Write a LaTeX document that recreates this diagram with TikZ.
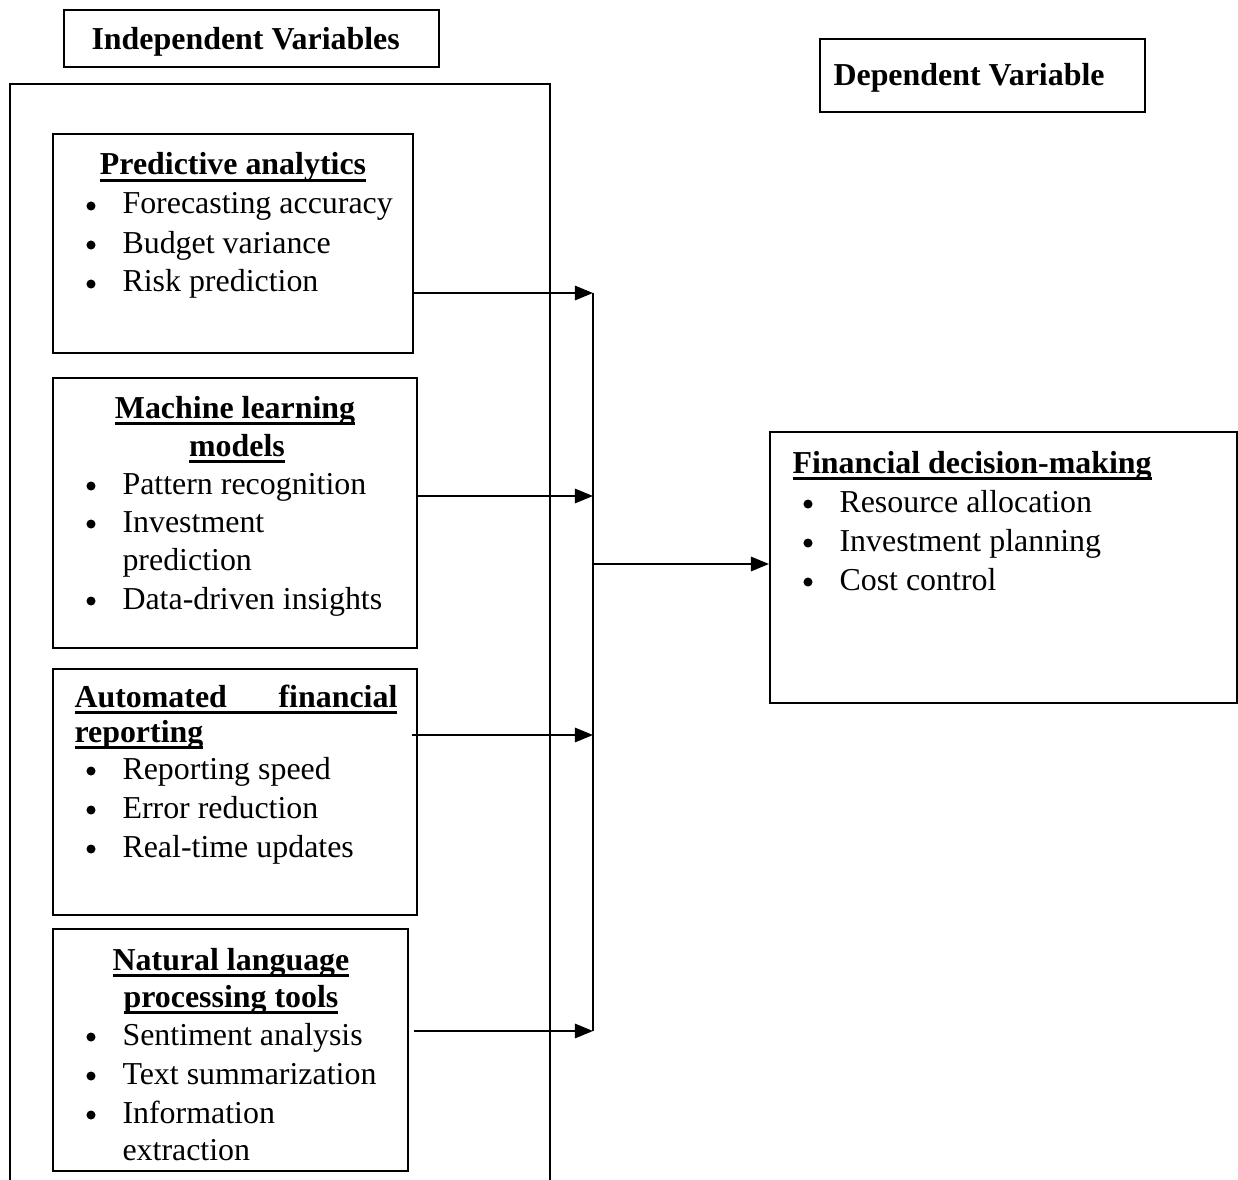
\documentclass[tikz,border=0pt]{standalone}
\usepackage{fontspec}
\setmainfont{Liberation Serif}
\usetikzlibrary{fit,arrows.meta}
\newcommand\myul[1]{\sbox0{#1}\rlap{\rule[-2.5pt]{\wd0}{1.1pt}}\usebox0}
\begin{document}
\begin{tikzpicture}[x=0.376pt,y=-0.376pt,
  every node/.style={font=\fontsize{12}{14}\selectfont},
  box/.style={draw, line width=0.75pt, inner sep=0pt},
  txt/.style={anchor=base west, inner sep=0pt},
  hd/.style={anchor=base west, inner sep=0pt, font=\fontsize{12}{14}\selectfont\bfseries},
  ttl/.style={anchor=base, inner sep=0pt, font=\fontsize{12}{14}\selectfont\bfseries},
  ttll/.style={anchor=base west, inner sep=0pt, font=\fontsize{12}{14}\selectfont\bfseries},
  bul/.style={circle, fill, inner sep=0pt, minimum size=3.4pt, yshift=3pt},
  conn/.style={line width=0.75pt},
  arr/.style={line width=0.75pt, -{Triangle[length=6.8pt,width=5.4pt]}}]
\useasboundingbox (0,0) rectangle (1238,1180);
\fill[white] (0,0) rectangle (1238,1180);

% headers
\node (ivbox) [box, fit={(64,10) (439,67)}] {};
\node (ivtxt) [hd] at (91,50) {Independent Variables};
\node (dvbox) [box, fit={(820,39) (1145,112)}] {};
\node (dvtxt) [hd] at (833,86) {Dependent Variable};

% outer frame
\draw[line width=0.75pt] (10,1185) -- (10,84) -- (550,84) -- (550,1185);

% box 1
\node (b1) [box, fit={(53,134) (413,353)}] {};
\node (b1t) [ttl] at (233,175) {\myul{Predictive analytics}};
\node (b1a) [bul] at (91,214) {};
\node (b1at) [txt] at (122,214) {Forecasting accuracy};
\node (b1b) [bul] at (91,253) {};
\node (b1bt) [txt] at (122,253) {Budget variance};
\node (b1c) [bul] at (91,292) {};
\node (b1ct) [txt] at (122,292) {Risk prediction};

% box 2
\node (b2) [box, fit={(53,378) (417,648)}] {};
\node (b2t) [ttl] at (235,418) {\myul{Machine learning}};
\node (b2t2) [ttl] at (237,456) {\myul{models}};
\node (b2a) [bul] at (91,494) {};
\node (b2at) [txt] at (122,494) {Pattern recognition};
\node (b2b) [bul] at (91,532) {};
\node (b2bt) [txt] at (122,532) {Investment};
\node (b2bt2) [txt] at (122,570) {prediction};
\node (b2c) [bul] at (91,609) {};
\node (b2ct) [txt] at (122,609) {Data-driven insights};

% box 3
\node (b3) [box, fit={(53,669) (417,915)}] {};
\node (b3t) [ttll] at (74,707) {\myul{\makebox[121.4pt][s]{Automated\hfill financial}}};
\node (b3t2) [ttll] at (74,742) {\myul{reporting}};
\node (b3a) [bul] at (91,779) {};
\node (b3at) [txt] at (122,779) {Reporting speed};
\node (b3b) [bul] at (91,818) {};
\node (b3bt) [txt] at (122,818) {Error reduction};
\node (b3c) [bul] at (91,857) {};
\node (b3ct) [txt] at (122,857) {Real-time updates};

% box 4
\node (b4) [box, fit={(53,929) (408,1171)}] {};
\node (b4t) [ttl] at (231,970) {\myul{Natural language}};
\node (b4t2) [ttl] at (231,1007) {\myul{processing tools}};
\node (b4a) [bul] at (91,1045) {};
\node (b4at) [txt] at (122,1045) {Sentiment analysis};
\node (b4b) [bul] at (91,1084) {};
\node (b4bt) [txt] at (122,1084) {Text summarization};
\node (b4c) [bul] at (91,1123) {};
\node (b4ct) [txt] at (122,1123) {Information};
\node (b4ct2) [txt] at (122,1160) {extraction};

% dependent box
\node (fd) [box, fit={(770,432) (1237,703)}] {};
\node (fdt) [ttll] at (792,473) {\myul{Financial decision-making}};
\node (fda) [bul] at (808,512) {};
\node (fdat) [txt] at (839,512) {Resource allocation};
\node (fdb) [bul] at (808,551) {};
\node (fdbt) [txt] at (839,551) {Investment planning};
\node (fdc) [bul] at (808,590) {};
\node (fdct) [txt] at (839,590) {Cost control};

% bus
\coordinate (bus1) at (593,293);
\coordinate (bus2) at (593,496);
\coordinate (bus3) at (593,735);
\coordinate (bus4) at (593,1031);
\coordinate (busm) at (593,564);

\draw[arr] (b1.east |- bus1) -- (bus1);
\draw[arr] (b2.east |- bus2) -- (bus2);
\draw[arr] ([xshift=-6*0.376pt]b3.east |- bus3) -- (bus3);
\draw[arr] ([xshift=5*0.376pt]b4.east |- bus4) -- (bus4);
\draw[conn] (bus1) -- (bus4);
\draw[arr] (busm) -- (busm -| fd.west);
\end{tikzpicture}
\end{document}
